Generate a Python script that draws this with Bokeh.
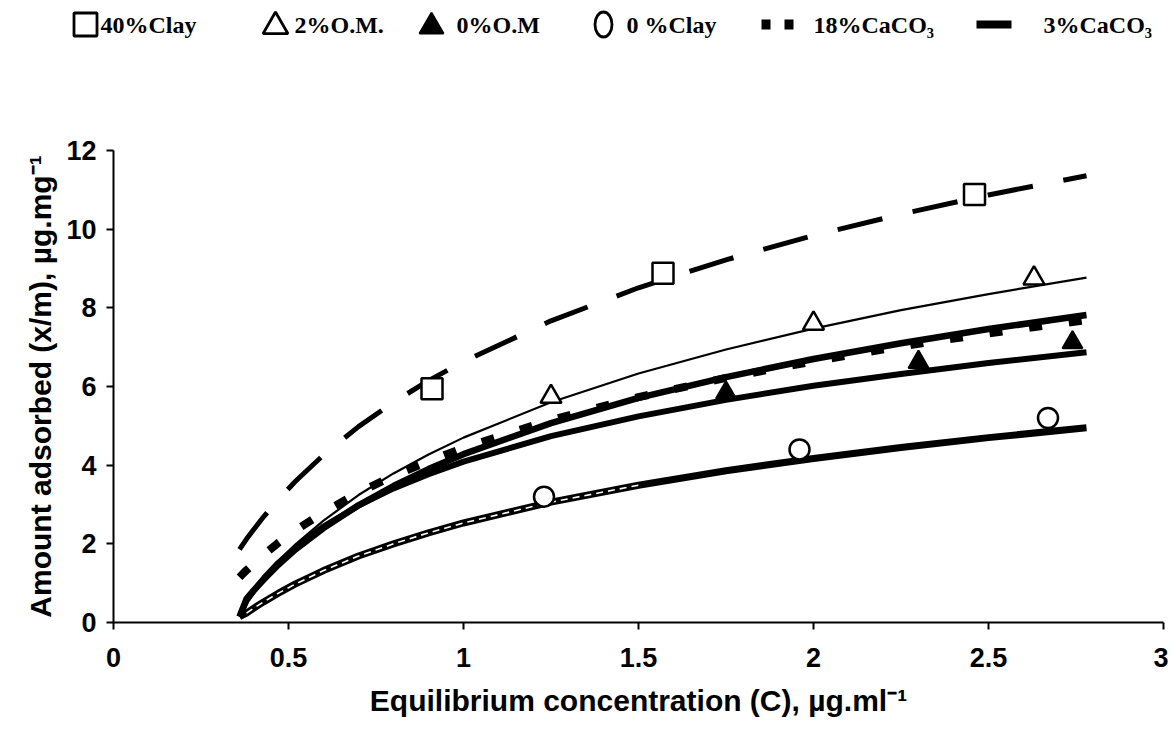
from bokeh.plotting import figure
from bokeh.layouts import column
from bokeh.models import Range1d, FixedTicker, NumeralTickFormatter
from bokeh.core.properties import value
from bokeh.embed import file_html
from bokeh.resources import INLINE

# ---------------- data ----------------
x_ticks = [0, 0.5, 1, 1.5, 2, 2.5, 3]
x_tick_labels = ["0", "0.5", "1", "1.5", "2", "2.5", "3"]
y_ticks = [0, 2, 4, 6, 8, 10, 12]
y_tick_labels = ["0", "2", "4", "6", "8", "10", "12"]

names = ["40%Clay", "2%O.M.", "0%O.M", "0 %Clay", "18%CaCO\u2083", "3%CaCO\u2083"]

# measured points
clay40_x = [0.91, 1.57, 2.46]
clay40_y = [5.94, 8.88, 10.88]
om2_x = [1.25, 2.00, 2.63]
om2_y = [5.74, 7.60, 8.75]
om0_x = [1.75, 2.30, 2.74]
om0_y = [5.84, 6.62, 7.12]
clay0_x = [1.23, 1.96, 2.67]
clay0_y = [3.20, 4.40, 5.20]

# fitted curves
fit_x = [0.36, 0.38, 0.40, 0.43, 0.47, 0.52, 0.60, 0.70, 0.80, 0.90,
         1.00, 1.25, 1.50, 1.75, 2.00, 2.25, 2.50, 2.78]
clay40_fit = [1.86, 2.12, 2.36, 2.70, 3.12, 3.59, 4.26, 4.98, 5.60, 6.15,
              6.63, 7.67, 8.51, 9.22, 9.84, 10.38, 10.87, 11.36]
om2_fit = [0.15, 0.62, 0.85, 1.17, 1.55, 1.99, 2.59, 3.24, 3.79, 4.27,
           4.70, 5.60, 6.33, 6.94, 7.47, 7.94, 8.35, 8.77]
caco18_fit = [1.15, 1.33, 1.49, 1.73, 2.02, 2.34, 2.80, 3.30, 3.73, 4.10,
              4.44, 5.15, 5.73, 6.22, 6.64, 7.02, 7.35, 7.69]
caco3_fit = [0.15, 0.60, 0.81, 1.10, 1.46, 1.86, 2.40, 2.98, 3.47, 3.90,
             4.28, 5.07, 5.71, 6.24, 6.70, 7.10, 7.46, 7.82]
om0_fit = [0.15, 0.55, 0.80, 1.13, 1.51, 1.91, 2.44, 2.97, 3.41, 3.77,
           4.09, 4.74, 5.24, 5.66, 6.02, 6.32, 6.60, 6.87]
clay0_fit = [0.15, 0.24, 0.36, 0.53, 0.74, 0.98, 1.32, 1.69, 2.00, 2.28,
             2.53, 3.06, 3.49, 3.86, 4.17, 4.45, 4.70, 4.95]

# ---------------- styles ----------------
SQ = dict(marker="square", size=21, fill_color="white", line_color="black", line_width=2.5)
TRI = dict(marker="triangle", size=21, fill_color="white", line_color="black", line_width=2.5)
FTRI = dict(marker="triangle", size=20, fill_color="black", line_color="black", line_width=2)
CIRC = dict(marker="circle", size=20, fill_color="white", line_color="black", line_width=2.5)
DASH40 = dict(line_color="black", line_width=5, line_dash="46 31")
DOT18 = dict(line_color="black", line_width=8, line_dash="13 27")

W = 1168
# ---------------- key strip (layout in screen pixels) ----------------
LH = 58
KEY_Y = 34                       # key row centre, pixels up from strip bottom
lf = figure(width=W, height=LH, x_range=Range1d(0, W), y_range=Range1d(0, LH),
            output_backend="svg", toolbar_location=None,
            x_axis_location=None, y_axis_location=None, min_border=0)
lf.frame_align = False
lf.outline_line_color = None
lf.grid.visible = False

lf.scatter([85], [KEY_Y], marker="square", size=23, fill_color="white",
           line_color="black", line_width=2.8)
lf.scatter([275], [KEY_Y - 2], marker="triangle", size=25, fill_color="white",
           line_color="black", line_width=2.8)
lf.scatter([431], [KEY_Y - 2], marker="triangle", size=24, fill_color="black",
           line_color="black", line_width=2)
lf.ellipse([603], [KEY_Y], width=17, height=25, width_units="screen", height_units="screen",
           fill_color="white", line_color="black", line_width=2.8)
lf.line([761, 793], [KEY_Y, KEY_Y], line_color="black", line_width=10, line_dash="9 14")
lf.line([976, 1011], [KEY_Y, KEY_Y], line_color="black", line_width=8)

key_text_x = [100, 294, 456, 626, 813, 1043]
lf.text(key_text_x, [KEY_Y] * 6, text=names, text_font=value("Liberation Serif"),
        text_font_style="bold", text_font_size="24px", text_color="black",
        text_baseline="middle", text_align="left")

# ---------------- main figure ----------------
p = figure(width=W, height=674, x_range=Range1d(0, 3), y_range=Range1d(0, 12),
           output_backend="svg", toolbar_location=None,
           min_border_left=113, min_border_right=5, min_border_top=92, min_border_bottom=110)
p.frame_align = False
p.outline_line_color = None
p.grid.visible = False

for ax in (p.xaxis[0], p.yaxis[0]):
    ax.axis_line_width = 2
    ax.axis_line_color = "black"
    ax.major_tick_line_width = 2
    ax.major_tick_line_color = "black"
    ax.major_tick_in = 0
    ax.major_tick_out = 7
    ax.minor_tick_line_color = None
    ax.major_label_text_font = "Liberation Sans"
    ax.major_label_text_font_style = "bold"
    ax.major_label_text_font_size = "27px"
    ax.major_label_text_color = "black"
    ax.axis_label_text_font = "Liberation Sans"
    ax.axis_label_text_font_style = "bold"
    ax.axis_label_text_font_size = "30px"
    ax.axis_label_text_color = "black"

p.xaxis.major_label_standoff = 18
p.yaxis.major_label_standoff = 10
p.xaxis.ticker = FixedTicker(ticks=x_ticks)
p.yaxis.ticker = FixedTicker(ticks=y_ticks)
p.xaxis.formatter = NumeralTickFormatter(format="0.[0]")
p.yaxis.formatter = NumeralTickFormatter(format="0")
p.xaxis.major_label_overrides = {float(t): s for t, s in zip(x_ticks, x_tick_labels)}
p.yaxis.major_label_overrides = {float(t): s for t, s in zip(y_ticks, y_tick_labels)}
p.xaxis.axis_label = "Equilibrium concentration (C), \u00b5g.ml\u207b\u00b9"
p.yaxis.axis_label = "Amount adsorbed (x/m), \u00b5g.mg\u207b\u00b9"
p.xaxis.axis_label_standoff = 14
p.yaxis.axis_label_standoff = 6

# curves
p.line(fit_x, clay40_fit, **DASH40)
p.line(fit_x, caco18_fit, **DOT18)
p.line(fit_x, caco3_fit, line_color="black", line_width=6.5, line_join="round")
p.line(fit_x, om0_fit, line_color="black", line_width=6, line_join="round")
p.line(fit_x, clay0_fit, line_color="black", line_width=7, line_join="round")
# scanned "hollow" look of the 0 %Clay line on its left part
p.line(fit_x[1:13], clay0_fit[1:13], line_color="white", line_width=1.6, line_dash="7 5")
p.line(fit_x, om2_fit, line_color="black", line_width=2.2, line_join="round")

# measured markers
p.scatter(clay40_x, clay40_y, **SQ)
p.scatter(om2_x, om2_y, **TRI)
p.scatter(om0_x, om0_y, **FTRI)
p.scatter(clay0_x, clay0_y, **CIRC)

layout = column(lf, p, spacing=0)
open("out.html", "w").write(file_html(layout, INLINE))
